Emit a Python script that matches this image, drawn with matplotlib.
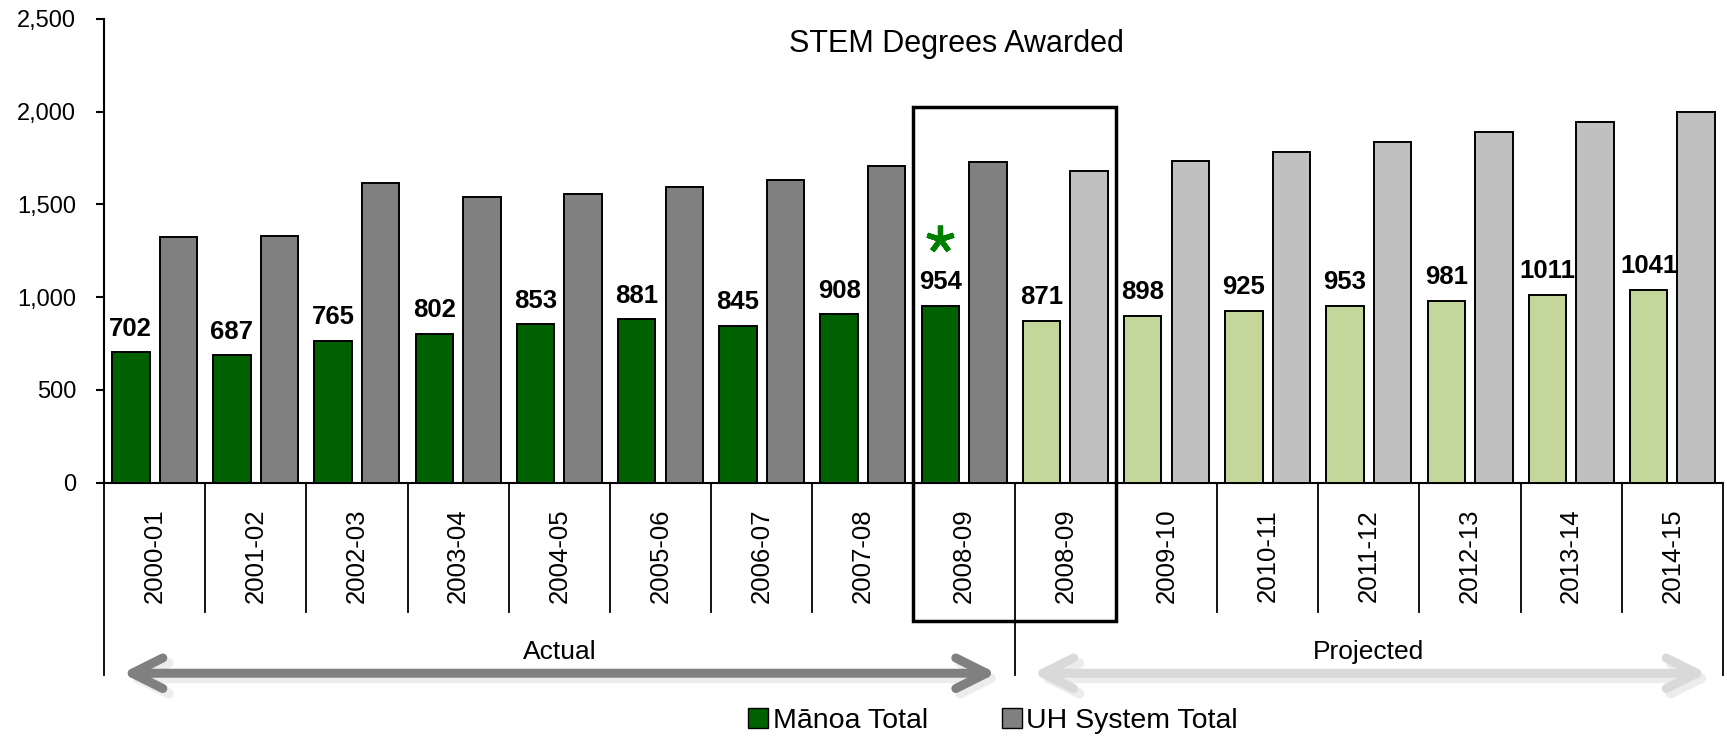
import matplotlib.pyplot as plt
import matplotlib.transforms as mtransforms
from matplotlib.patches import Rectangle, Patch
from matplotlib.ticker import FuncFormatter

plt.rcParams['font.family'] = ['Liberation Sans', 'DejaVu Sans']

# data
years = ['2000-01', '2001-02', '2002-03', '2003-04', '2004-05', '2005-06', '2006-07', '2007-08',
         '2008-09', '2008-09', '2009-10', '2010-11', '2011-12', '2012-13', '2013-14', '2014-15']
manoa = [702, 687, 765, 802, 853, 881, 845, 908, 954, 871, 898, 925, 953, 981, 1011, 1041]
uh_system = [1325, 1329, 1618, 1540, 1555, 1596, 1633, 1707, 1731, 1682, 1734, 1784, 1837, 1890, 1943, 2000]
n_actual = 9  # first 9 columns are actual, rest projected
star_idx = 8  # column flagged with the green asterisk

DARK_GREEN = '#006100'
LIGHT_GREEN = '#c4d79b'
DARK_GREY = '#808080'
LIGHT_GREY = '#c0c0c0'

fig = plt.figure(figsize=(17.27, 7.36), dpi=100)
ax = fig.add_axes([0.0602, 0.3442, 0.9375, 0.63])

x = list(range(len(years)))
w = 0.37
off = 0.235
g_cols = [DARK_GREEN if i < n_actual else LIGHT_GREEN for i in x]
u_cols = [DARK_GREY if i < n_actual else LIGHT_GREY for i in x]
ax.bar([i - off for i in x], manoa, width=w, color=g_cols, edgecolor='black', linewidth=1.4, zorder=3)
ax.bar([i + off for i in x], uh_system, width=w, color=u_cols, edgecolor='black', linewidth=1.4, zorder=3)

# labels above manoa bars
for i, v in enumerate(manoa):
    ax.text(i - off, v + 90, str(v), ha='center', va='baseline', fontsize=18.5, fontweight='bold')
# green asterisk (5-armed marker) above the flagged bar
ax.plot([star_idx - off], [manoa[star_idx] + 360], marker=(5, 2, 0), markersize=20,
        markeredgewidth=3.8, color='#008000', linestyle='none', zorder=4)

ax.set_xlim(-0.5, len(years) - 0.5)
ax.set_ylim(0, 2500)
ax.set_yticks(range(0, 2501, 500))
ax.yaxis.set_major_formatter(FuncFormatter(lambda v, p: f'{int(v):,}'))
ax.tick_params(axis='y', labelsize=17, width=1.5, length=6, pad=14)
ax.set_xticks([])
for s in ['top', 'right']:
    ax.spines[s].set_visible(False)
ax.spines['left'].set_linewidth(1.5)
ax.spines['bottom'].set_linewidth(1.5)

trans = mtransforms.blended_transform_factory(ax.transData, ax.transAxes)

# category separators and labels
for i, lab in enumerate(years):
    ax.text(i, -0.157, lab, rotation=90, ha='center', va='center', fontsize=18.5, transform=trans)
for b in [k - 0.5 for k in range(len(years) + 1)]:
    y_end = -0.415 if b in (-0.5, 8.5, 15.5) else -0.279
    ax.plot([b, b], [0, y_end], color='black', lw=1.3, transform=trans, clip_on=False)

# highlight box around 2008-09 pair
ax.add_patch(Rectangle((7.5, -0.298), 2.0, 1.109, transform=trans, fill=False,
                       edgecolor='black', linewidth=2.5, clip_on=False, zorder=5))

# actual / projected arrows
ax.text(4.0, -0.365, 'Actual', ha='center', va='center', fontsize=19, transform=trans)
ax.text(12.0, -0.365, 'Projected', ha='center', va='center', fontsize=19, transform=trans)
style = '<->,head_length=2.2,head_width=1.1'
for x0, x1, col in [(-0.32, 8.32, DARK_GREY), (8.68, 15.34, '#d9d9d9')]:
    ax.annotate('', xy=(x1 + 0.05, -0.422), xytext=(x0 + 0.05, -0.422), xycoords=trans, textcoords=trans,
                arrowprops=dict(arrowstyle=style, color='#ececec', lw=7, shrinkA=0, shrinkB=0))
    ax.annotate('', xy=(x1, -0.411), xytext=(x0, -0.411), xycoords=trans, textcoords=trans,
                arrowprops=dict(arrowstyle=style, color=col, lw=6.5, shrinkA=0, shrinkB=0,
                                capstyle='round', joinstyle='round'))

fig.text(0.554, 0.94, 'STEM Degrees Awarded', ha='center', va='center', fontsize=22)

handles = [Patch(facecolor=DARK_GREEN, edgecolor='black', label='Mānoa Total'),
           Patch(facecolor=DARK_GREY, edgecolor='black', label='UH System Total')]
fig.legend(handles=handles, loc='center', bbox_to_anchor=(0.575, 0.02), ncol=2, frameon=False,
           fontsize=20.5, handlelength=0.7, handleheight=0.7, handletextpad=0.15, columnspacing=2.6,
           borderpad=0)

plt.savefig('out.png', dpi=100)
